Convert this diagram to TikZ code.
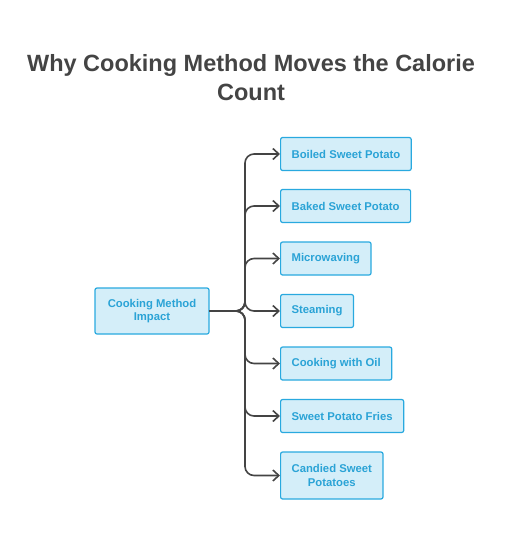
\documentclass[tikz,border=0pt]{standalone}
\usepackage{fontspec}
\setmainfont{Liberation Sans}
\usetikzlibrary{arrows.meta}
\definecolor{boxfill}{HTML}{D4EEF9}
\definecolor{boxline}{HTML}{29A9DF}
\definecolor{boxtext}{HTML}{2AA3D6}
\definecolor{linegray}{HTML}{444444}
\tikzset{
	methodbox/.style={draw=boxline, fill=boxfill, line width=1.2pt, rounded corners=2pt,
		text=boxtext, font=\fontsize{11.3}{13.5}\selectfont\bfseries, align=center,
		minimum height=33pt, inner xsep=11pt, anchor=west},
	branch/.style={draw=linegray, line width=1.6pt, rounded corners=9pt,
		-{Straight Barb[length=6pt,width=11pt]}}
}
\begin{document}
\begin{tikzpicture}[x=1pt, y=-1pt]
	\useasboundingbox (0,0) rectangle (507,554);
	%title
	\node[text=linegray, font=\fontsize{23.5}{29}\selectfont\bfseries, align=center] (title) at (251, 78)
		{Why Cooking Method Moves the Calorie\\Count};

	%root
	\node[methodbox, anchor=center, minimum width=114pt, minimum height=46pt] (root) at (152, 311)
		{Cooking Method\\Impact};
	\coordinate (hub) at (245, 311);

	%methods
	\foreach \name/\label/\y in {boiled/Boiled Sweet Potato/154, baked/Baked Sweet Potato/206,
		micro/Microwaving/258.5, steam/Steaming/311, oil/Cooking with Oil/363.5,
		fries/Sweet Potato Fries/416}{
		\node[methodbox] (\name) at (280, \y){\label};
		\draw[branch] (root.east) -- (hub) |- (\name.west);
	}
	\node[methodbox, minimum height=47pt] (candied) at (280, 475.5){Candied Sweet\\Potatoes};
	\draw[branch] (root.east) -- (hub) |- (candied.west);
\end{tikzpicture}
\end{document}
